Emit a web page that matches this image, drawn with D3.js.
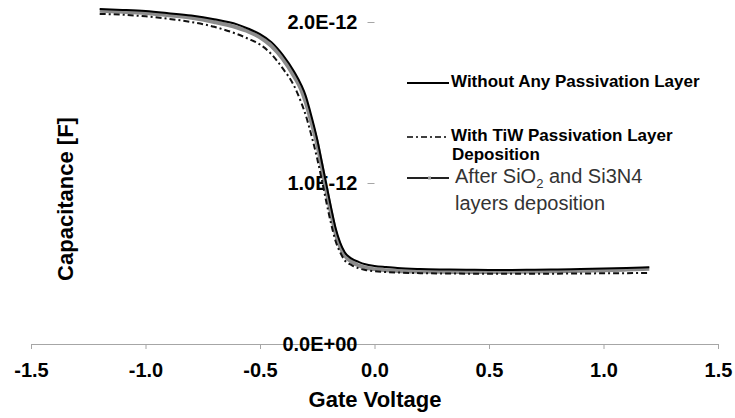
<!DOCTYPE html>
<html>
<head>
<meta charset="utf-8">
<script src="https://cdn.jsdelivr.net/npm/d3@7"></script>
<style>
  html, body { margin: 0; padding: 0; background: #fff; }
  svg { display: block; font-family: "Liberation Sans", Arial, sans-serif; }
</style>
</head>
<body>
<svg id="chart" width="735" height="418"></svg>
<script>
// Gate voltage sweep (V)
const voltage = [-1.2,-1.1,-1.0,-0.9,-0.8,-0.7,-0.6,-0.55,-0.5,-0.45,-0.4,-0.35,-0.32,-0.3,-0.28,-0.25,-0.23,-0.21,-0.19,-0.17,-0.15,-0.13,-0.1,-0.07,-0.04,0,0.05,0.1,0.2,0.3,0.4,0.5,0.6,0.7,0.8,0.9,1.0,1.1,1.2];

// Capacitance in pF for each measurement condition
const capBare = [2.08,2.075,2.068,2.055,2.04,2.017,1.985,1.958,1.925,1.875,1.795,1.69,1.61,1.54,1.44,1.27,1.13,0.99,0.85,0.72,0.63,0.57,0.53,0.51,0.495,0.485,0.478,0.472,0.466,0.463,0.461,0.46,0.46,0.461,0.463,0.466,0.469,0.472,0.476];
const capTiW = [2.05,2.045,2.035,2.02,2.0,1.97,1.925,1.895,1.86,1.80,1.71,1.60,1.50,1.42,1.32,1.15,1.02,0.88,0.75,0.64,0.57,0.52,0.49,0.47,0.46,0.452,0.447,0.444,0.44,0.438,0.437,0.436,0.436,0.436,0.437,0.438,0.439,0.44,0.441];
const capNitride = [2.07,2.064,2.056,2.042,2.026,2.0,1.965,1.94,1.905,1.85,1.77,1.66,1.58,1.50,1.40,1.24,1.10,0.955,0.815,0.69,0.605,0.55,0.51,0.488,0.474,0.465,0.458,0.454,0.45,0.448,0.447,0.447,0.448,0.45,0.452,0.455,0.458,0.462,0.467];

const xTicks = [-1.5,-1.0,-0.5,0.0,0.5,1.0,1.5];
const yTicks = [0, 1e-12, 2e-12];
const yTickLabels = ["0.0E+00","1.0E-12","2.0E-12"];

const svg = d3.select("#chart");

const x = d3.scaleLinear().domain([-1.5, 1.5]).range([31, 718]);
const y = d3.scaleLinear().domain([0, 2e-12]).range([344, 22]);

// Horizontal axis
const xAxis = svg.append("g")
  .attr("transform", `translate(0,${y(0)})`)
  .call(d3.axisBottom(x).tickValues(xTicks).tickSize(5).tickPadding(14).tickFormat(d3.format(".1f")));
xAxis.select(".domain").attr("stroke", "#a6a6a6");
xAxis.selectAll(".tick line").attr("stroke", "#a6a6a6");
xAxis.selectAll(".tick text")
  .text(d => d3.format(".1f")(d).replace("−", "-"))
  .attr("font-size", 20).attr("font-weight", "bold").attr("fill", "#000")
  .attr("font-family", "'Liberation Sans', Arial, sans-serif");

// Vertical axis crossing at V = 0 (no spine, only tick marks)
const yAxis = svg.append("g")
  .attr("transform", `translate(${x(0)},0)`)
  .call(d3.axisLeft(y).tickValues(yTicks).tickSize(7).tickPadding(10)
    .tickFormat((d, i) => yTickLabels[i]));
yAxis.select(".domain").remove();
yAxis.selectAll(".tick line").attr("stroke", "#a6a6a6");
yAxis.selectAll(".tick text")
  .attr("font-size", 20).attr("font-weight", "bold").attr("fill", "#000")
  .attr("font-family", "'Liberation Sans', Arial, sans-serif");

// Axis titles
svg.append("text")
  .attr("x", 375).attr("y", 407)
  .attr("text-anchor", "middle")
  .attr("font-size", 22).attr("font-weight", "bold")
  .text("Gate Voltage");

svg.append("text")
  .attr("transform", "translate(73,199) rotate(-90)")
  .attr("text-anchor", "middle")
  .attr("font-size", 22).attr("font-weight", "bold")
  .text("Capacitance [F]");

// C–V curves
const line = vals => d3.line()
  .x((d, i) => x(voltage[i]))
  .y(d => y(d * 1e-12))
  .curve(d3.curveMonotoneX)(vals);

svg.append("path").attr("d", line(capNitride))
  .attr("fill", "none").attr("stroke", "#8c8c8c").attr("stroke-width", 4);
svg.append("path").attr("d", line(capBare))
  .attr("fill", "none").attr("stroke", "#000").attr("stroke-width", 2);
svg.append("path").attr("d", line(capTiW))
  .attr("fill", "none").attr("stroke", "#111").attr("stroke-width", 2)
  .attr("stroke-dasharray", "6,3,2,3");

// Legend
const lg = svg.append("g");
lg.append("line").attr("x1", 407).attr("x2", 449).attr("y1", 83).attr("y2", 83)
  .attr("stroke", "#000").attr("stroke-width", 2);
lg.append("text").attr("x", 451).attr("y", 87)
  .attr("font-size", 17).attr("font-weight", "bold")
  .text("Without Any Passivation Layer");

lg.append("line").attr("x1", 407).attr("x2", 449).attr("y1", 137).attr("y2", 137)
  .attr("stroke", "#000").attr("stroke-width", 1.5).attr("stroke-dasharray", "6,3,2,3");
const t2 = lg.append("text").attr("x", 451).attr("y", 141)
  .attr("font-size", 17).attr("font-weight", "bold");
t2.append("tspan").attr("x", 451).text("With TiW Passivation Layer");
t2.append("tspan").attr("x", 452).attr("dy", 18.5).text("Deposition");

lg.append("line").attr("x1", 407).attr("x2", 449).attr("y1", 178).attr("y2", 178)
  .attr("stroke", "#222").attr("stroke-width", 2);
lg.append("rect").attr("x", 428).attr("y", 176.5).attr("width", 3).attr("height", 3)
  .attr("fill", "#999");
const t3 = lg.append("text").attr("x", 455).attr("y", 183)
  .attr("font-size", 20).attr("fill", "#333");
const t3a = t3.append("tspan").attr("x", 455);
t3a.append("tspan").text("After SiO");
t3a.append("tspan").attr("font-size", 13).attr("dy", 5).text("2");
t3a.append("tspan").attr("dy", -5).text(" and Si3N4");
t3.append("tspan").attr("x", 455).attr("dy", 27).text("layers deposition");
</script>
</body>
</html>
